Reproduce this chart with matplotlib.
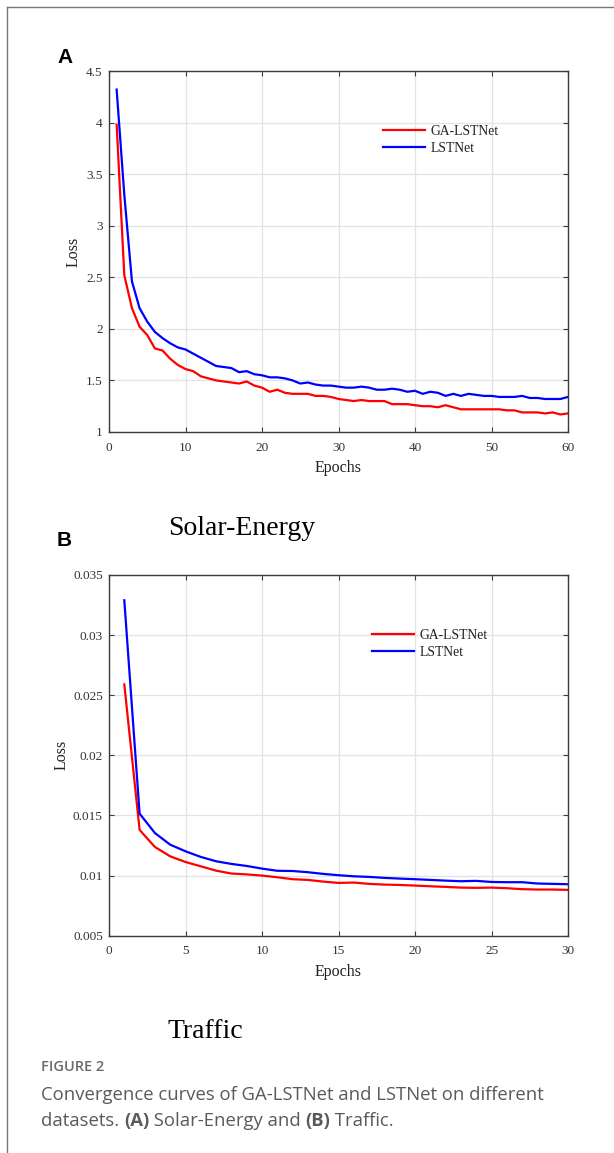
import matplotlib
matplotlib.use("Agg")
import matplotlib.pyplot as plt
from matplotlib.lines import Line2D
import numpy as np

# ---------------- data ----------------
solar_epochs = list(range(1, 61))
solar_ga = [3.98, 2.52, 2.20, 2.02, 1.94, 1.81, 1.79, 1.71, 1.65, 1.61,
            1.59, 1.54, 1.52, 1.50, 1.49, 1.48, 1.47, 1.49, 1.45, 1.43,
            1.39, 1.41, 1.38, 1.37, 1.37, 1.37, 1.35, 1.35, 1.34, 1.32,
            1.31, 1.30, 1.31, 1.30, 1.30, 1.30, 1.27, 1.27, 1.27, 1.26,
            1.25, 1.25, 1.24, 1.26, 1.24, 1.22, 1.22, 1.22, 1.22, 1.22,
            1.22, 1.21, 1.21, 1.19, 1.19, 1.19, 1.18, 1.19, 1.17, 1.18]
solar_lst = [4.32, 3.30, 2.46, 2.20, 2.07, 1.97, 1.91, 1.86, 1.82, 1.80,
             1.76, 1.72, 1.68, 1.64, 1.63, 1.62, 1.58, 1.59, 1.56, 1.55,
             1.53, 1.53, 1.52, 1.50, 1.47, 1.48, 1.46, 1.45, 1.45, 1.44,
             1.43, 1.43, 1.44, 1.43, 1.41, 1.41, 1.42, 1.41, 1.39, 1.40,
             1.37, 1.39, 1.38, 1.35, 1.37, 1.35, 1.37, 1.36, 1.35, 1.35,
             1.34, 1.34, 1.34, 1.35, 1.33, 1.33, 1.32, 1.32, 1.32, 1.34]

traffic_epochs = list(range(1, 31))
traffic_ga = [0.0259, 0.0138, 0.01238, 0.0116, 0.01113, 0.01077, 0.01041, 0.01017, 0.0101, 0.0100,
              0.00986, 0.00970, 0.00964, 0.00950, 0.00939, 0.00942, 0.00931, 0.00925, 0.00922, 0.00917,
              0.00911, 0.00906, 0.00900, 0.00898, 0.00900, 0.00895, 0.00887, 0.00884, 0.00884, 0.00881]
traffic_lst = [0.0329, 0.01515, 0.01354, 0.01257, 0.01202, 0.01155, 0.01119, 0.01097, 0.0108, 0.01058,
               0.0104, 0.01038, 0.01028, 0.01014, 0.01003, 0.00994, 0.00989, 0.00981, 0.00975, 0.0097,
               0.00964, 0.00958, 0.00953, 0.00956, 0.00947, 0.00945, 0.00945, 0.00934, 0.00931, 0.00928]

solar_xticks = [0, 10, 20, 30, 40, 50, 60]
solar_yticks = [1, 1.5, 2, 2.5, 3, 3.5, 4, 4.5]
solar_yticklabels = ["1", "1.5", "2", "2.5", "3", "3.5", "4", "4.5"]
traffic_xticks = [0, 5, 10, 15, 20, 25, 30]
traffic_yticks = [0.005, 0.01, 0.015, 0.02, 0.025, 0.03, 0.035]
traffic_yticklabels = ["0.005", "0.01", "0.015", "0.02", "0.025", "0.03", "0.035"]

series_labels = ["GA-LSTNet", "LSTNet"]
series_colors = ["#ff0000", "#0000ff"]

# ---------------- figure ----------------
W, H = 614, 1153
fig = plt.figure(figsize=(W / 100, H / 100), dpi=100)
fig.patch.set_facecolor("white")

SERIF = ["Liberation Serif", "DejaVu Serif"]
SANS = ["Liberation Sans", "DejaVu Sans"]


def px_axes(l, t, r, b):
    return fig.add_axes([l / W, 1 - b / H, (r - l) / W, (b - t) / H])


def style_axes(ax, xlim, ylim, xticks, yticks, ylabels, leg_anchor, ylab_x):
    ax.set_xlim(*xlim)
    ax.set_ylim(*ylim)
    ax.set_xticks(xticks)
    ax.set_xticklabels([str(t) for t in xticks])
    ax.set_yticks(yticks)
    ax.set_yticklabels(ylabels)
    ax.grid(True, color="#e3e3e3", linewidth=0.9)
    ax.set_axisbelow(True)
    for s in ax.spines.values():
        s.set_color("#3c3c3c")
        s.set_linewidth(1.0)
    ax.tick_params(direction="in", top=True, right=True, length=3.5,
                   width=0.8, color="#3c3c3c", labelcolor="#333333",
                   labelsize=9.5)
    ax.tick_params(axis="x", pad=7)
    ax.tick_params(axis="y", pad=4.5)
    for lab in ax.get_xticklabels() + ax.get_yticklabels():
        lab.set_family(SERIF)
    ax.set_xlabel("Epochs", family=SERIF, fontsize=11.5, color="#222222")
    ax.xaxis.set_label_coords(0.5, -0.100)
    ax.xaxis.label.set_va("center")
    ax.set_ylabel("Loss", family=SERIF, fontsize=11.5, color="#222222")
    ax.yaxis.set_label_coords(ylab_x, 0.5)
    ax.yaxis.label.set_va("center")
    leg = ax.legend(loc="upper left", bbox_to_anchor=leg_anchor, frameon=False,
                    borderpad=0, borderaxespad=0, handlelength=3.1,
                    handletextpad=0.4, labelspacing=0.3,
                    prop={"family": SERIF, "size": 9.8})
    for t in leg.get_texts():
        t.set_color("#222222")


# Panel A
axA = px_axes(109, 71, 568, 432)
for vals, lab, col in zip([solar_ga, solar_lst], series_labels, series_colors):
    axA.plot(solar_epochs, vals, color=col, lw=1.6, label=lab)
style_axes(axA, (0, 60), (1, 4.5), solar_xticks, solar_yticks, solar_yticklabels,
           (0.597, 0.850), -0.078)

# Panel B
axB = px_axes(109, 575, 568, 935.7)
for vals, lab, col in zip([traffic_ga, traffic_lst], series_labels, series_colors):
    axB.plot(traffic_epochs, vals, color=col, lw=1.6, label=lab)
style_axes(axB, (0, 30), (0.005, 0.035), traffic_xticks, traffic_yticks, traffic_yticklabels,
           (0.573, 0.850), -0.104)

# Panel letters and titles
fig.text(57 / W, 1 - 63 / H, "A", family=SANS, weight="bold", fontsize=15,
         ha="left", va="baseline", color="black")
fig.text(57 / W, 1 - 546 / H, "B", family=SANS, weight="bold", fontsize=15,
         ha="left", va="baseline", color="black")
fig.text(168 / W, 1 - 535 / H, "Solar-Energy", family=SERIF, fontsize=20,
         ha="left", va="baseline", color="black")
fig.text(168 / W, 1 - 1038 / H, "Traffic", family=SERIF, fontsize=20,
         ha="left", va="baseline", color="black")

# Outer frame (left and top)
fig.add_artist(Line2D([7 / W, 7 / W], [0, 1 - 7 / H], transform=fig.transFigure,
                      color="#777777", lw=1.0))
fig.add_artist(Line2D([7 / W, 1], [1 - 7 / H, 1 - 7 / H], transform=fig.transFigure,
                      color="#777777", lw=1.0))

# Caption
CAP = ["Open Sans", "DejaVu Sans"]
cap_col = "#5a5a5a"
CX = 41
fig.text(CX / W, 1 - 1067 / H, "FIGURE 2", family=CAP, weight="semibold",
         fontsize=10.5, color="#6a6a6a", ha="left", va="center")
fig.text(CX / W, 1 - 1095 / H, "Convergence curves of GA-LSTNet and LSTNet on different",
         family=CAP, fontsize=13.3, color=cap_col, ha="left", va="center")

renderer = fig.canvas.get_renderer()
x = CX
pieces = [("datasets. ", "normal"), ("(A)", "bold"), (" Solar-Energy and ", "normal"),
          ("(B)", "bold"), (" Traffic.", "normal")]
for txt, wt in pieces:
    t = fig.text(x / W, 1 - 1121 / H, txt, family=CAP, weight=wt, fontsize=13.3,
                 color=cap_col, ha="left", va="center")
    bb = t.get_window_extent(renderer)
    x = bb.x1

fig.savefig("out.png", dpi=100)
